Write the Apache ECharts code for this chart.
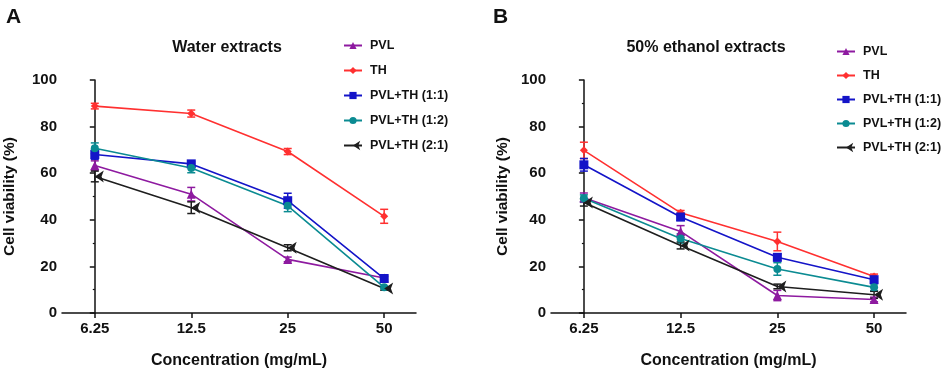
<!DOCTYPE html>
<html>
<head>
<meta charset="utf-8">
<script src="https://cdn.jsdelivr.net/npm/echarts@6/dist/echarts.min.js"></script>
<style>
  html, body { margin: 0; padding: 0; background: #fff; }
  #chart { width: 941px; height: 371px; }
</style>
</head>
<body>
<div id="chart"></div>
<script>
// concentrations (mg/mL), one per x position
const xLabels = ["6.25", "12.5", "25", "50"];
const seriesNames = ["PVL", "TH", "PVL+TH (1:1)", "PVL+TH (1:2)", "PVL+TH (2:1)"];

// A - water extracts (mean, sem)
const waterPVL = [63.3, 51.0, 23.0, 15.0];
const waterPVLErr = [2.0, 2.9, 1.0, 0.5];
const waterTH = [88.8, 85.6, 69.3, 41.5];
const waterTHErr = [1.2, 1.5, 1.3, 3.0];
const water11 = [68.0, 64.0, 48.2, 14.8];
const water11Err = [2.0, 1.0, 3.2, 1.0];
const water12 = [70.7, 62.2, 46.0, 11.0];
const water12Err = [2.3, 2.0, 2.5, 0.5];
const water21 = [58.6, 45.2, 28.0, 10.5];
const water21Err = [2.3, 2.5, 1.3, 0.7];

// B - 50% ethanol extracts (mean, sem)
const ethPVL = [49.5, 35.0, 7.5, 5.8];
const ethPVLErr = [2.0, 2.5, 2.2, 1.0];
const ethTH = [69.8, 43.0, 30.7, 15.7];
const ethTHErr = [3.5, 1.0, 4.0, 1.0];
const eth11 = [63.6, 41.2, 23.9, 14.3];
const eth11Err = [2.7, 1.5, 1.5, 1.0];
const eth12 = [49.2, 32.0, 18.9, 11.0];
const eth12Err = [1.5, 2.0, 2.7, 1.5];
const eth21 = [47.4, 29.0, 11.4, 7.8];
const eth21Err = [1.5, 1.5, 1.0, 1.5];

const colors = ["#8e1aa0", "#ff3030", "#1414c8", "#0b8b92", "#1e1e1e"];
const symbols = ["triangle", "diamond", "rect", "circle", "arrow"];
const symbolSizes = [9, 8, 9, 8, 9];
const symbolRotates = [0, 0, 0, 0, 90];

const FONT = "Liberation Sans";

const panels = [
  { means: [waterPVL, waterTH, water11, water12, water21],
    errs: [waterPVLErr, waterTHErr, water11Err, water12Err, water21Err] },
  { means: [ethPVL, ethTH, eth11, eth12, eth21],
    errs: [ethPVLErr, ethTHErr, eth11Err, eth12Err, eth21Err] }
];

// error bar drawn through the axis scales
function errorBar(params, api) {
  const x = api.value(0);
  const lo = api.coord([x, api.value(1) - api.value(2)]);
  const hi = api.coord([x, api.value(1) + api.value(2)]);
  const w = 4;
  const style = { stroke: api.visual("color"), lineWidth: 1.5 };
  return {
    type: "group",
    children: [
      { type: "line", shape: { x1: lo[0], y1: lo[1], x2: hi[0], y2: hi[1] }, style },
      { type: "line", shape: { x1: lo[0] - w, y1: lo[1], x2: lo[0] + w, y2: lo[1] }, style },
      { type: "line", shape: { x1: hi[0] - w, y1: hi[1], x2: hi[0] + w, y2: hi[1] }, style }
    ]
  };
}

const series = [];
panels.forEach((p, gi) => {
  p.means.forEach((m, si) => {
    series.push({
      type: "custom",
      xAxisIndex: gi,
      yAxisIndex: gi,
      renderItem: errorBar,
      itemStyle: { color: colors[si] },
      data: m.map((v, i) => [i, v, p.errs[si][i]]),
      z: 2,
      silent: true
    });
    series.push({
      name: seriesNames[si],
      type: "line",
      xAxisIndex: gi,
      yAxisIndex: gi,
      data: m.map((v, i) => [i, v]),
      symbol: symbols[si],
      symbolSize: symbolSizes[si],
      symbolRotate: symbolRotates[si],
      color: colors[si],
      lineStyle: { width: 1.6, color: colors[si] },
      itemStyle: { color: colors[si] },
      z: 3
    });
  });
});

function xAxis(gi) {
  return {
    type: "value",
    gridIndex: gi,
    min: -0.34,
    max: 3.33,
    splitLine: { show: false },
    axisLine: { lineStyle: { color: "#111", width: 1.5 } },
    axisTick: { customValues: [0, 1, 2, 3], length: 5, lineStyle: { color: "#111", width: 1.5 } },
    axisLabel: {
      customValues: [0, 1, 2, 3],
      formatter: v => xLabels[v],
      color: "#111", fontFamily: FONT, fontWeight: "bold", fontSize: 15, margin: 8
    },
    name: "Concentration (mg/mL)",
    nameLocation: "middle",
    nameGap: 40,
    nameTextStyle: { color: "#111", fontFamily: FONT, fontWeight: "bold", fontSize: 16 }
  };
}

function yAxis(gi, gap) {
  return {
    type: "value",
    gridIndex: gi,
    min: 0,
    max: 100,
    interval: 20,
    splitLine: { show: false },
    axisLine: { show: true, lineStyle: { color: "#111", width: 1.5 } },
    axisTick: { show: true, length: 5, lineStyle: { color: "#111", width: 1.5 } },
    minorTick: { show: true, splitNumber: 2, length: 2, lineStyle: { color: "#111", width: 1.2 } },
    axisLabel: { color: "#111", fontFamily: FONT, fontWeight: "bold", fontSize: 15, margin: 5 },
    name: "Cell viability (%)",
    nameLocation: "middle",
    nameGap: gap,
    nameTextStyle: { color: "#111", fontFamily: FONT, fontWeight: "bold", fontSize: 15.5 }
  };
}

function legend(left, top, gap) {
  return {
    orient: "vertical",
    left: left,
    top: top,
    itemGap: gap,
    itemWidth: 18,
    itemHeight: 9,
    data: seriesNames,
    textStyle: { color: "#111", fontFamily: FONT, fontWeight: "bold", fontSize: 12.5, padding: [0, 0, 0, 3] }
  };
}

const chart = echarts.init(document.getElementById("chart"));
chart.setOption({
  animation: false,
  backgroundColor: "#fff",
  title: [
    { text: "A", left: 1, top: 2, textStyle: { fontFamily: FONT, fontWeight: "bold", fontSize: 21, color: "#111" } },
    { text: "B", left: 488, top: 2, textStyle: { fontFamily: FONT, fontWeight: "bold", fontSize: 21, color: "#111" } },
    { text: "Water extracts", left: 222, top: 35, textAlign: "center", textStyle: { fontFamily: FONT, fontWeight: "bold", fontSize: 16, color: "#111" } },
    { text: "50% ethanol extracts", left: 701, top: 35, textAlign: "center", textStyle: { fontFamily: FONT, fontWeight: "bold", fontSize: 16, color: "#111" } }
  ],
  legend: [legend(338, 34, 12), legend(831, 40, 11)],
  grid: [
    { left: 62, right: 525, top: 80, bottom: 58, outerBoundsMode: "none" },
    { left: 551, right: 35, top: 80, bottom: 58, outerBoundsMode: "none" }
  ],
  xAxis: [xAxis(0), xAxis(1)],
  yAxis: [yAxis(0, 44), yAxis(1, 40)],
  series: series
});
</script>
</body>
</html>
